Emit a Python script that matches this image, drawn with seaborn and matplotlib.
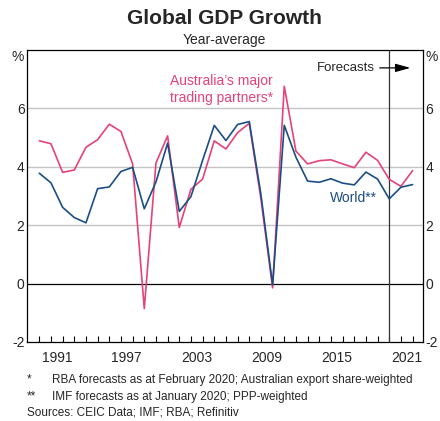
import numpy as np
import pandas as pd
import matplotlib
matplotlib.use("Agg")
import matplotlib.pyplot as plt
import seaborn as sns

# data (year-average GDP growth, %), plotted at year end
years = list(range(1989, 2022))
trading_partners = [4.89, 4.79, 3.81, 3.89, 4.67, 4.93, 5.46, 5.21, 4.10, -0.86,
                    4.13, 5.06, 1.92, 3.23, 3.58, 4.89, 4.61, 5.17, 5.49, 2.90,
                    -0.15, 6.76, 4.54, 4.10, 4.21, 4.24, 4.10, 3.97, 4.50, 4.22,
                    3.57, 3.33, 3.87]
world = [3.78, 3.45, 2.61, 2.26, 2.08, 3.25, 3.31, 3.84, 3.98, 2.56,
         3.48, 4.81, 2.47, 2.98, 4.22, 5.42, 4.90, 5.45, 5.55, 3.05,
         -0.05, 5.42, 4.33, 3.51, 3.47, 3.59, 3.44, 3.38, 3.82, 3.58,
         2.90, 3.30, 3.39]
year_labels = [1991, 1997, 2003, 2009, 2015, 2021]
y_ticks = [-2, 0, 2, 4, 6]
forecast_start = 2020

pink = "#E5427B"
blue = "#1B4E86"

df = pd.DataFrame({
    "x": [y + 1 for y in years] * 2,
    "growth": trading_partners + world,
    "series": ["partners"] * len(years) + ["world"] * len(years),
})

sns.set_style("white")
plt.rcParams["font.family"] = ["Liberation Sans", "DejaVu Sans"]

fig = plt.figure(figsize=(4.4, 4.21), dpi=100)
ax = fig.add_axes([0.062, 0.188, 0.899, 0.693])

# grid lines
for v in [2, 4, 6]:
    ax.axhline(v, color="#C4C4C4", lw=1.0, zorder=0)
ax.axhline(0, color="black", lw=0.9, zorder=1)
ax.axvline(forecast_start, color="#333333", lw=0.9, zorder=1)

sns.lineplot(data=df, x="x", y="growth", hue="series",
             palette={"partners": pink, "world": blue},
             hue_order=["partners", "world"], lw=1.2, legend=False, ax=ax)

ax.set_xlim(1988.97, 2022.88)
ax.set_ylim(-2, 8)
ax.set_xlabel("")
ax.set_ylabel("")

# x ticks at year boundaries, labels centred in the year
ax.set_xticks(np.arange(1990, 2023))
ax.set_xticklabels([])
ax.set_xticks([y + 0.5 for y in year_labels], minor=True)
ax.set_xticklabels([str(y) for y in year_labels], minor=True, fontsize=10)
ax.tick_params(axis="x", which="major", direction="in", length=4, width=0.8,
               color="black", bottom=True)
ax.tick_params(axis="x", which="minor", length=0, pad=6.5)

ax.set_yticks(y_ticks)
ax.set_yticklabels([str(v) for v in y_ticks], fontsize=10)
ax.tick_params(axis="y", length=0, pad=2, labelright=True, right=False)

for s in ax.spines.values():
    s.set_color("black")
    s.set_linewidth(0.9)

# % unit labels
ax.text(-0.008, 0.975, "%", transform=ax.transAxes, ha="right", va="center", fontsize=10)
ax.text(1.006, 0.975, "%", transform=ax.transAxes, ha="left", va="center", fontsize=10)

# annotations
ax.text(2001.2, 6.66, "Australia\u2019s major\ntrading partners*", color=pink,
        fontsize=10, ha="left", va="center", linespacing=1.25)
ax.text(2016.9, 2.92, "World**", color=blue, fontsize=10, ha="center", va="center")
ax.text(2018.77, 7.39, "Forecasts", fontsize=9.5, ha="right", va="center")
ax.annotate("", xy=(2022.05, 7.39), xytext=(2018.95, 7.39),
            arrowprops=dict(arrowstyle="-|>,head_length=0.9,head_width=0.25",
                            color="black", lw=0.9))

fig.text(0.511, 0.957, "Global GDP Growth", ha="center", va="center",
         fontsize=15, fontweight="bold")
fig.text(0.511, 0.905, "Year-average", ha="center", va="center", fontsize=10)

fig.text(0.061, 0.099, "*", fontsize=8.5, va="center")
fig.text(0.1175, 0.097, "RBA forecasts as at February 2020; Australian export share-weighted",
         fontsize=8.5, va="center")
fig.text(0.061, 0.059, "**", fontsize=8.5, va="center")
fig.text(0.1175, 0.057, "IMF forecasts as at January 2020; PPP-weighted",
         fontsize=8.5, va="center")
fig.text(0.061, 0.021, "Sources: CEIC Data; IMF; RBA; Refinitiv", fontsize=8.5, va="center")

fig.savefig("out.png", dpi=100)
